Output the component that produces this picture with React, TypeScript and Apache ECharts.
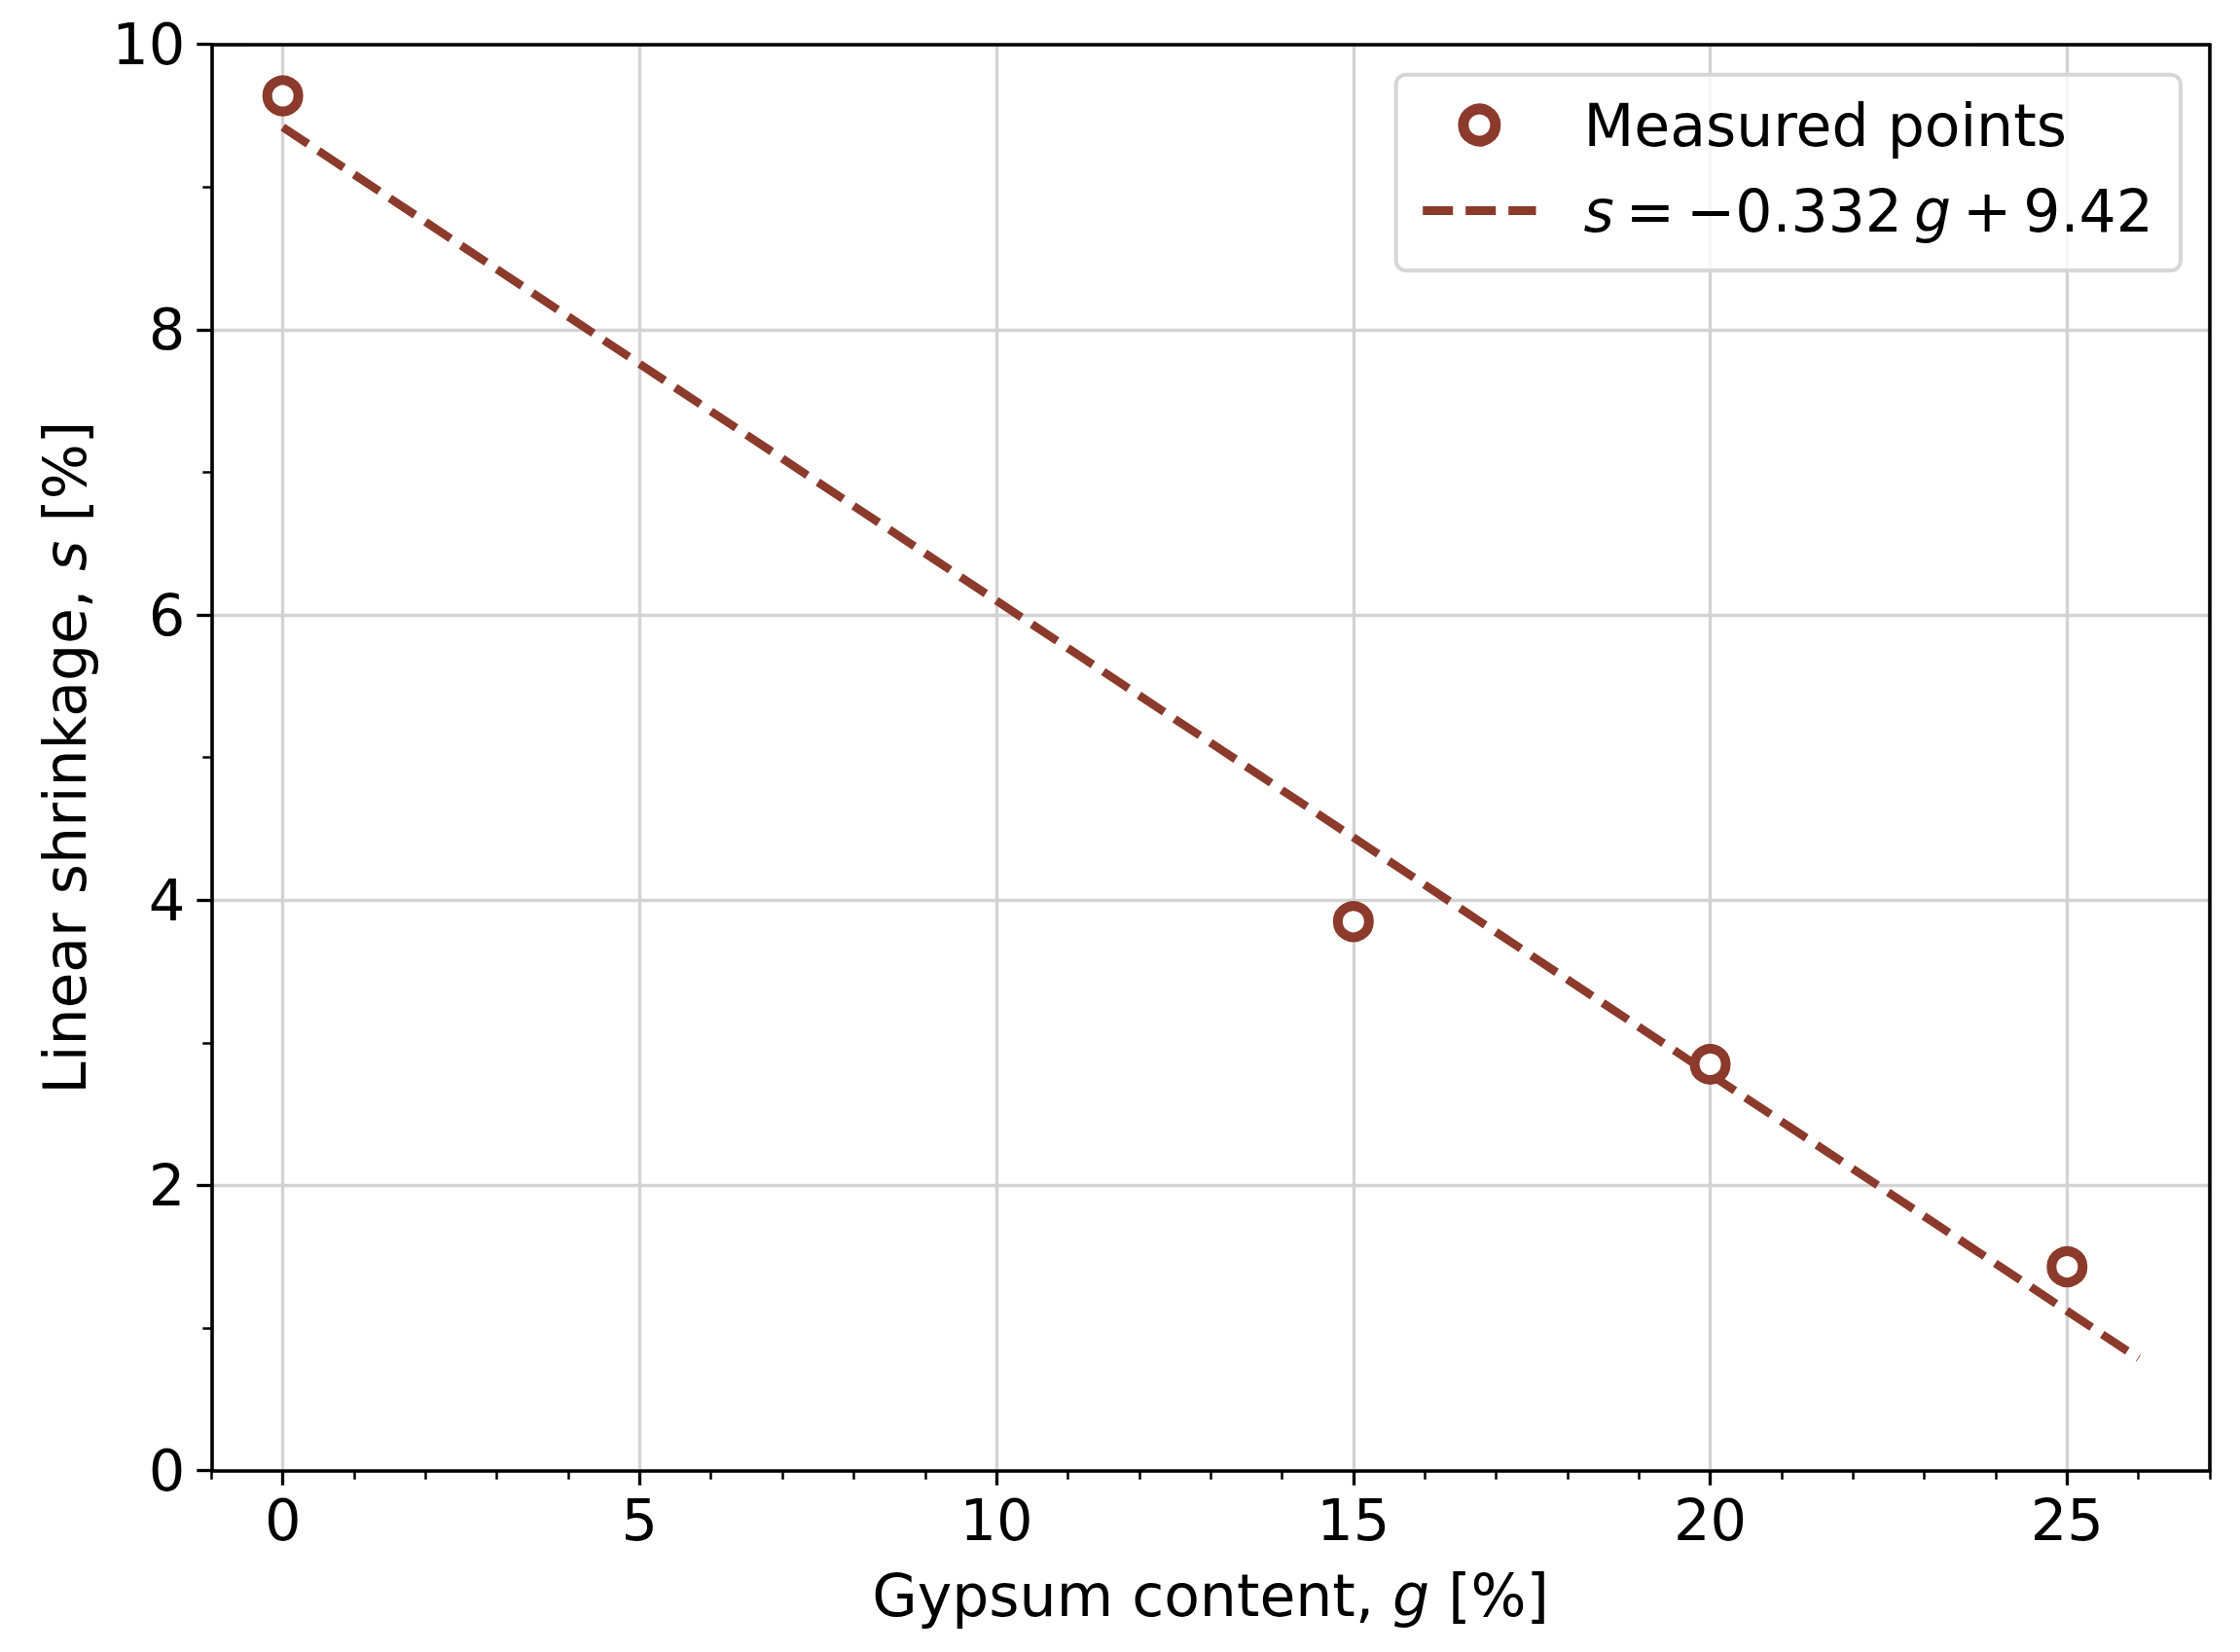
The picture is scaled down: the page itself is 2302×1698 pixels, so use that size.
import React, { useEffect, useRef } from "react";
import * as echarts from "echarts";

// ---- data ----
const gypsumContent = [0, 15, 20, 25];
const linearShrinkage = [9.64, 3.85, 2.85, 1.43];
const fitX = [0, 26];
const fitY = [9.42, 0.788];
const xTickValues = [0, 5, 10, 15, 20, 25];
const yTickValues = [0, 2, 4, 6, 8, 10];
const measuredName = "Measured points";
const fitName = "s = \u22120.332 g + 9.42";
const xAxisName = "Gypsum content, {i|g} [%]";
const yAxisName = "Linear shrinkage, {i|s} [%]";

const BROWN = "#8B3A2B";
const FONT = "DejaVu Sans";
const GRID_COLOR = "#d3d3d3";

export default function App() {
  const ref = useRef<HTMLDivElement>(null);

  useEffect(() => {
    document.body.style.margin = "0";
    if (!ref.current) return;
    const chart = echarts.init(ref.current, null, { renderer: "svg" });

    const nameStyle = {
      fontSize: 60,
      fontFamily: FONT,
      color: "#000",
      rich: {
        i: { fontStyle: "italic", fontSize: 60, fontFamily: FONT, color: "#000" },
      },
    };
    const spine = { show: true, onZero: false, lineStyle: { color: "#000", width: 3.6 } };
    const noLine = { show: false, onZero: false };

    const option: any = {
      animation: false,
      backgroundColor: "#fff",
      grid: {
        left: 217.3,
        right: 31,
        top: 45.7,
        bottom: 186.3,
        containLabel: false,
        outerBoundsMode: "none",
      },
      legend: {
        left: 1434.7,
        top: 76.7,
        orient: "vertical",
        padding: [21.8, 28, 31.5, 23],
        itemGap: 28,
        itemWidth: 116.3,
        itemHeight: 33,
        backgroundColor: "rgba(255,255,255,0.8)",
        borderColor: "#d6d6d6",
        borderWidth: 4,
        borderRadius: 10,
        selectedMode: false,
        textStyle: {
          fontFamily: FONT,
          fontSize: 60,
          color: "#000",
          rich: {
            gap: { width: 44, fontSize: 60, fontFamily: FONT },
            n: { fontSize: 60, fontFamily: FONT, color: "#000" },
            i: { fontSize: 60, fontFamily: FONT, color: "#000", fontStyle: "italic" },
          },
        },
        formatter: (name: string) =>
          name === measuredName
            ? "{gap| }{n|Measured points}"
            : "{gap| }{i|s}{n|\u2009=\u2009\u22120.332\u2009}{i|g}{n|\u2009+\u20099.42}",
        data: [
          {
            name: measuredName,
            icon: "circle",
            itemStyle: { color: "#fff", borderColor: BROWN, borderWidth: 11 },
          },
          {
            name: fitName,
            itemStyle: { color: "rgba(0,0,0,0)", borderColor: "rgba(0,0,0,0)", borderWidth: 0, opacity: 0 },
            lineStyle: { color: BROWN, width: 9, type: [31, 13], opacity: 1 },
          },
        ],
      },
      xAxis: [
        {
          type: "value",
          min: -1,
          max: 27,
          position: "bottom",
          axisLine: spine,
          axisTick: {
            show: true,
            customValues: xTickValues,
            length: 15,
            lineStyle: { color: "#000", width: 3.3 },
          },
          axisLabel: {
            show: true,
            customValues: xTickValues,
            margin: 21,
            color: "#000",
            fontSize: 59,
            fontFamily: FONT,
          },
          splitLine: { show: true, lineStyle: { color: GRID_COLOR, width: 3.3 } },
          name: xAxisName,
          nameLocation: "middle",
          nameGap: 98,
          nameTextStyle: nameStyle,
        },
        {
          type: "value",
          min: -1,
          max: 27,
          interval: 1,
          position: "bottom",
          axisLine: noLine,
          axisTick: { show: true, length: 9, lineStyle: { color: "#000", width: 2.5 } },
          axisLabel: { show: false },
          splitLine: { show: false },
        },
        {
          type: "value",
          min: -1,
          max: 27,
          position: "top",
          axisLine: spine,
          axisTick: { show: false },
          axisLabel: { show: false },
          splitLine: { show: false },
        },
      ],
      yAxis: [
        {
          type: "value",
          min: 0,
          max: 10,
          interval: 2,
          position: "left",
          axisLine: spine,
          axisTick: { show: true, length: 15, lineStyle: { color: "#000", width: 3.3 } },
          axisLabel: {
            show: true,
            customValues: yTickValues,
            margin: 27,
            color: "#000",
            fontSize: 59,
            fontFamily: FONT,
          },
          splitLine: { show: true, lineStyle: { color: GRID_COLOR, width: 3.3 } },
          name: yAxisName,
          nameLocation: "middle",
          nameGap: 120,
          nameTextStyle: nameStyle,
        },
        {
          type: "value",
          min: 0,
          max: 10,
          interval: 1,
          position: "left",
          axisLine: noLine,
          axisTick: { show: true, length: 9, lineStyle: { color: "#000", width: 2.5 } },
          axisLabel: { show: false },
          splitLine: { show: false },
        },
        {
          type: "value",
          min: 0,
          max: 10,
          position: "right",
          axisLine: spine,
          axisTick: { show: false },
          axisLabel: { show: false },
          splitLine: { show: false },
        },
      ],
      series: [
        {
          type: "line",
          name: fitName,
          xAxisIndex: 0,
          yAxisIndex: 0,
          data: fitX.map((x, i) => [x, fitY[i]]),
          symbol: "none",
          lineStyle: { color: BROWN, width: 8.5, type: [31, 13], cap: "butt" },
          itemStyle: { color: BROWN },
          z: 2,
          silent: true,
          emphasis: { disabled: true },
        },
        {
          type: "scatter",
          name: measuredName,
          xAxisIndex: 0,
          yAxisIndex: 0,
          data: gypsumContent.map((g, i) => [g, linearShrinkage[i]]),
          symbol: "circle",
          symbolSize: 32,
          itemStyle: { color: "#fff", borderColor: BROWN, borderWidth: 10, opacity: 1 },
          z: 3,
          silent: true,
          emphasis: { disabled: true },
        },
      ],
    };

    chart.setOption(option);
    return () => chart.dispose();
  }, []);

  return <div ref={ref} style={{ width: 2302, height: 1698 }} />;
}
